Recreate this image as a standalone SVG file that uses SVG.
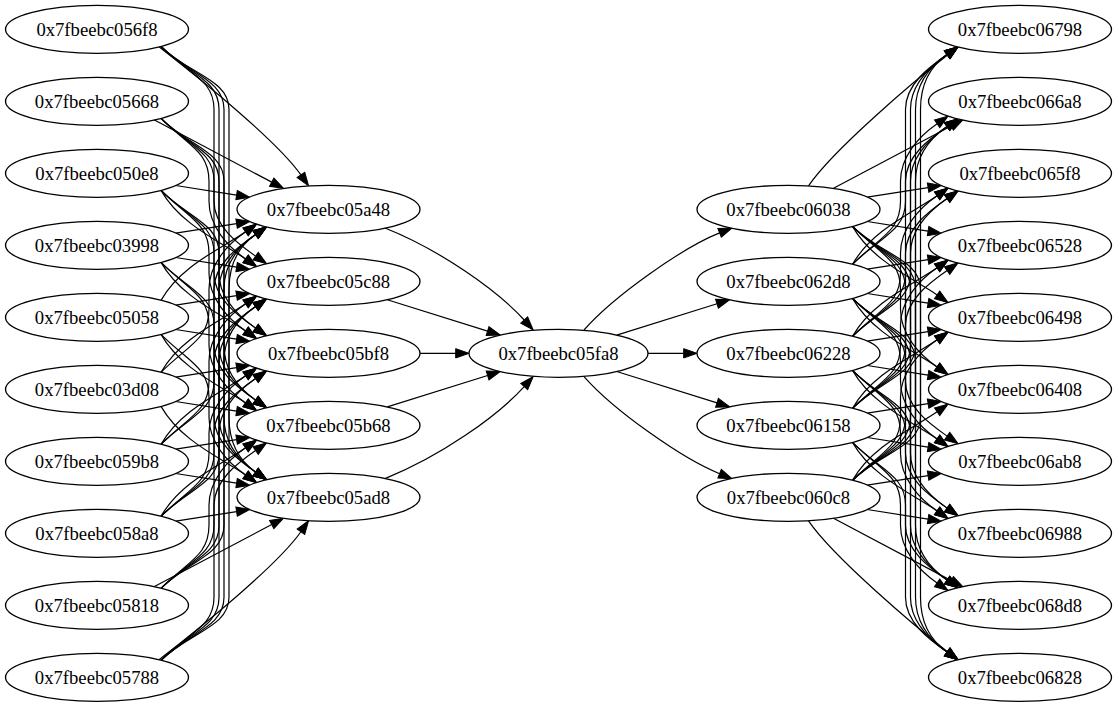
<svg xmlns="http://www.w3.org/2000/svg" width="1118" height="707" viewBox="0 0 1118 707">
<style>
  .node ellipse { fill: #ffffff; stroke: #000000; stroke-width: 1.33; }
  .node text { font-family: "Liberation Serif", "Times New Roman", serif; font-size: 18.67px; text-anchor: middle; fill: #000000; }
  #edges path { fill: none; stroke: #000000; stroke-width: 1.2; marker-end: url(#arrow); }
</style>
<defs>
  <marker id="arrow" markerUnits="userSpaceOnUse" markerWidth="16" markerHeight="12" refX="0" refY="4.67" orient="auto" overflow="visible">
    <path d="M0,0 L13.33,4.67 L0,9.33 z" fill="#000000" stroke="#000000" stroke-width="1"/>
  </marker>
</defs>
<rect x="0" y="0" width="1118" height="707" fill="#ffffff"/>
<g id="edges">
  <!-- first rank to second rank -->
  <path d="M159 46.83 c 45 35 119 95.3 141.9 128.1"/>
  <path d="M161 46.33 c 28 28 53 33 53 63 v 92 c 0 25 23.6 42.3 41.6 54.8"/>
  <path d="M161 46.33 c 28 28 58 33 58 63 v 164 c 0 25 18.6 42.3 36.6 54.8"/>
  <path d="M161 46.33 c 28 28 63 33 63 63 v 236 c 0 25 13.6 42.3 31.6 54.8"/>
  <path d="M161 46.33 c 28 28 68 33 68 63 v 308 c 0 25 8.6 42.3 26.6 54.8"/>

  <path d="M154 119.83 l 117.7 62.3"/>
  <path d="M161 118.33 c 28 28 48 33 48 63 v 20 c 0 25 18.6 45.1 36.6 57.6"/>
  <path d="M161 118.33 c 28 28 53 33 53 63 v 92 c 0 25 23.6 42.3 41.6 54.8"/>
  <path d="M161 118.33 c 28 28 58 33 58 63 v 164 c 0 25 18.6 42.3 36.6 54.8"/>
  <path d="M161 118.33 c 28 28 63 33 63 63 v 236 c 0 25 13.6 42.3 31.6 54.8"/>

  <path d="M175.7 185.53 l 60.9 9.55"/>
  <path d="M161 190.33 c 20 35 60 51.5 84.6 68.6"/>
  <path d="M161 190.33 c 28 28 48 33 48 63 v 20 c 0 25 18.6 45.1 36.6 57.6"/>
  <path d="M161 190.33 c 28 28 53 33 53 63 v 92 c 0 25 23.6 42.3 41.6 54.8"/>
  <path d="M161 190.33 c 28 28 58 33 58 63 v 164 c 0 25 18.6 42.3 36.6 54.8"/>

  <path d="M175.7 233.13 l 60.9 -9.55"/>
  <path d="M175.7 257.53 l 60.9 9.55"/>
  <path d="M161 262.33 c 20 35 60 51.5 84.6 68.6"/>
  <path d="M161 262.33 c 28 28 48 33 48 63 v 20 c 0 25 18.6 45.1 36.6 57.6"/>
  <path d="M161 262.33 c 28 28 53 33 53 63 v 92 c 0 25 23.6 42.3 41.6 54.8"/>

  <path d="M161 300.33 c 20 -35 60 -51.5 84.6 -68.6"/>
  <path d="M175.7 305.13 l 60.9 -9.55"/>
  <path d="M175.7 329.53 l 60.9 9.55"/>
  <path d="M161 334.33 c 20 35 60 51.5 84.6 68.6"/>
  <path d="M161 334.33 c 28 28 48 33 48 63 v 20 c 0 25 18.6 45.1 36.6 57.6"/>

  <path d="M161 372.33 c 28 -28 48 -33 48 -63 v -20 c 0 -25 18.6 -45.1 36.6 -57.6"/>
  <path d="M161 372.33 c 20 -35 60 -51.5 84.6 -68.6"/>
  <path d="M175.7 377.13 l 60.9 -9.55"/>
  <path d="M175.7 401.53 l 60.9 9.55"/>
  <path d="M161 406.33 c 20 35 60 51.5 84.6 68.6"/>

  <path d="M161 444.33 c 28 -28 53 -33 53 -63 v -92 c 0 -25 23.6 -42.3 41.6 -54.8"/>
  <path d="M161 444.33 c 28 -28 48 -33 48 -63 v -20 c 0 -25 18.6 -45.1 36.6 -57.6"/>
  <path d="M161 444.33 c 20 -35 60 -51.5 84.6 -68.6"/>
  <path d="M175.7 449.13 l 60.9 -9.55"/>
  <path d="M175.7 473.53 l 60.9 9.55"/>

  <path d="M161 516.33 c 28 -28 58 -33 58 -63 v -164 c 0 -25 18.6 -42.3 36.6 -54.8"/>
  <path d="M161 516.33 c 28 -28 53 -33 53 -63 v -92 c 0 -25 23.6 -42.3 41.6 -54.8"/>
  <path d="M161 516.33 c 28 -28 48 -33 48 -63 v -20 c 0 -25 18.6 -45.1 36.6 -57.6"/>
  <path d="M161 516.33 c 20 -35 60 -51.5 84.6 -68.6"/>
  <path d="M175.7 521.13 l 60.9 -9.55"/>

  <path d="M161 588.33 c 28 -28 63 -33 63 -63 v -236 c 0 -25 13.6 -42.3 31.6 -54.8"/>
  <path d="M161 588.33 c 28 -28 58 -33 58 -63 v -164 c 0 -25 18.6 -42.3 36.6 -54.8"/>
  <path d="M161 588.33 c 28 -28 53 -33 53 -63 v -92 c 0 -25 23.6 -42.3 41.6 -54.8"/>
  <path d="M161 588.33 c 28 -28 48 -33 48 -63 v -20 c 0 -25 18.6 -45.1 36.6 -57.6"/>
  <path d="M154 586.83 l 117.7 -62.3"/>

  <path d="M161 660.33 c 28 -28 68 -33 68 -63 v -308 c 0 -25 8.6 -42.3 26.6 -54.8"/>
  <path d="M161 660.33 c 28 -28 63 -33 63 -63 v -236 c 0 -25 13.6 -42.3 31.6 -54.8"/>
  <path d="M161 660.33 c 28 -28 58 -33 58 -63 v -164 c 0 -25 18.6 -42.3 36.6 -54.8"/>
  <path d="M161 660.33 c 28 -28 53 -33 53 -63 v -92 c 0 -25 23.6 -42.3 41.6 -54.8"/>
  <path d="M159 659.83 c 45 -35 119 -95.3 141.9 -128.1"/>

  <!-- second rank into the hub -->
  <path d="M385 228 C 440 250 497 290 524.2 320"/>
  <path d="M387.3 299.7 L 487.6 331.1"/>
  <path d="M420 353.33 L 455.7 353.33"/>
  <path d="M387.3 406.9 L 487.6 375.5"/>
  <path d="M385 478.6 C 440 456.6 497 416.6 524.2 386.6"/>

  <!-- hub out to fourth rank -->
  <path d="M584 330 C 614 296 682.5 247.7 719.6 232.9"/>
  <path d="M616.7 335.1 L 717 303.7"/>
  <path d="M648 353.33 L 683.7 353.33"/>
  <path d="M616.7 371.5 L 717 402.9"/>
  <path d="M584 376.6 C 614 410.6 682.5 458.9 719.6 473.7"/>

  <!-- fourth rank to last rank -->
  <path d="M808.5 185.83 c 25 -36.5 107.4 -106.2 139 -130.8"/>
  <path d="M833.5 188.33 l 117.7 -62.3"/>
  <path d="M867.2 197.13 l 60.9 -9.55"/>
  <path d="M867.2 221.53 l 60.9 9.55"/>
  <path d="M852.5 226.33 c 20 35 60 51.5 84.6 68.6"/>
  <path d="M852.5 226.33 c 28 28 48 33 48 63 v 20 c 0 25 18.6 45.1 36.6 57.6"/>
  <path d="M852.5 226.33 c 28 28 53 33 53 63 v 92 c 0 25 23.6 42.3 41.6 54.8"/>
  <path d="M852.5 226.33 c 28 28 58 33 58 63 v 164 c 0 25 18.6 42.3 36.6 54.8"/>
  <path d="M852.5 226.33 c 28 28 63 33 63 63 v 236 c 0 25 13.6 42.3 31.6 54.8"/>
  <path d="M852.5 226.33 c 28 28 68 33 68 63 v 308 c 0 25 8.6 42.3 26.6 54.8"/>

  <path d="M852.5 264.33 c 28 -28 53 -33 53 -63 v -92 c 0 -25 23.6 -42.3 41.6 -54.8"/>
  <path d="M852.5 264.33 c 28 -28 48 -33 48 -63 v -20 c 0 -25 18.6 -45.1 36.6 -57.6"/>
  <path d="M852.5 264.33 c 20 -35 60 -51.5 84.6 -68.6"/>
  <path d="M867.2 269.13 l 60.9 -9.55"/>
  <path d="M867.2 293.53 l 60.9 9.55"/>
  <path d="M852.5 298.33 c 20 35 60 51.5 84.6 68.6"/>
  <path d="M852.5 298.33 c 28 28 48 33 48 63 v 20 c 0 25 18.6 45.1 36.6 57.6"/>
  <path d="M852.5 298.33 c 28 28 53 33 53 63 v 92 c 0 25 23.6 42.3 41.6 54.8"/>
  <path d="M852.5 298.33 c 28 28 58 33 58 63 v 164 c 0 25 18.6 42.3 36.6 54.8"/>
  <path d="M852.5 298.33 c 28 28 63 33 63 63 v 236 c 0 25 13.6 42.3 31.6 54.8"/>

  <path d="M852.5 336.33 c 28 -28 58 -33 58 -63 v -164 c 0 -25 18.6 -42.3 36.6 -54.8"/>
  <path d="M852.5 336.33 c 28 -28 53 -33 53 -63 v -92 c 0 -25 23.6 -42.3 41.6 -54.8"/>
  <path d="M852.5 336.33 c 28 -28 48 -33 48 -63 v -20 c 0 -25 18.6 -45.1 36.6 -57.6"/>
  <path d="M852.5 336.33 c 20 -35 60 -51.5 84.6 -68.6"/>
  <path d="M867.2 341.13 l 60.9 -9.55"/>
  <path d="M867.2 365.53 l 60.9 9.55"/>
  <path d="M852.5 370.33 c 20 35 60 51.5 84.6 68.6"/>
  <path d="M852.5 370.33 c 28 28 48 33 48 63 v 20 c 0 25 18.6 45.1 36.6 57.6"/>
  <path d="M852.5 370.33 c 28 28 53 33 53 63 v 92 c 0 25 23.6 42.3 41.6 54.8"/>
  <path d="M852.5 370.33 c 28 28 58 33 58 63 v 164 c 0 25 18.6 42.3 36.6 54.8"/>

  <path d="M852.5 408.33 c 28 -28 63 -33 63 -63 v -236 c 0 -25 13.6 -42.3 31.6 -54.8"/>
  <path d="M852.5 408.33 c 28 -28 58 -33 58 -63 v -164 c 0 -25 18.6 -42.3 36.6 -54.8"/>
  <path d="M852.5 408.33 c 28 -28 53 -33 53 -63 v -92 c 0 -25 23.6 -42.3 41.6 -54.8"/>
  <path d="M852.5 408.33 c 28 -28 48 -33 48 -63 v -20 c 0 -25 18.6 -45.1 36.6 -57.6"/>
  <path d="M852.5 408.33 c 20 -35 60 -51.5 84.6 -68.6"/>
  <path d="M867.2 413.13 l 60.9 -9.55"/>
  <path d="M867.2 437.53 l 60.9 9.55"/>
  <path d="M852.5 442.33 c 20 35 60 51.5 84.6 68.6"/>
  <path d="M852.5 442.33 c 28 28 48 33 48 63 v 20 c 0 25 18.6 45.1 36.6 57.6"/>
  <path d="M852.5 442.33 c 28 28 53 33 53 63 v 92 c 0 25 23.6 42.3 41.6 54.8"/>

  <path d="M852.5 480.33 c 28 -28 68 -33 68 -63 v -308 c 0 -25 8.6 -42.3 26.6 -54.8"/>
  <path d="M852.5 480.33 c 28 -28 63 -33 63 -63 v -236 c 0 -25 13.6 -42.3 31.6 -54.8"/>
  <path d="M852.5 480.33 c 28 -28 58 -33 58 -63 v -164 c 0 -25 18.6 -42.3 36.6 -54.8"/>
  <path d="M852.5 480.33 c 28 -28 53 -33 53 -63 v -92 c 0 -25 23.6 -42.3 41.6 -54.8"/>
  <path d="M852.5 480.33 c 28 -28 48 -33 48 -63 v -20 c 0 -25 18.6 -45.1 36.6 -57.6"/>
  <path d="M852.5 480.33 c 20 -35 60 -51.5 84.6 -68.6"/>
  <path d="M867.2 485.13 l 60.9 -9.55"/>
  <path d="M867.2 509.53 l 60.9 9.55"/>
  <path d="M833.5 518.33 l 117.7 62.3"/>
  <path d="M808.5 520.83 c 25 36.5 107.4 106.2 139 130.8"/>
</g>

<!-- first rank -->
<g id="n056f8" class="node"><ellipse cx="97" cy="29.33" rx="91.5" ry="24"/><text x="97" y="35.6">0x7fbeebc056f8</text></g>
<g id="n05668" class="node"><ellipse cx="97" cy="101.33" rx="91.5" ry="24"/><text x="97" y="107.6">0x7fbeebc05668</text></g>
<g id="n050e8" class="node"><ellipse cx="97" cy="173.33" rx="91.5" ry="24"/><text x="97" y="179.6">0x7fbeebc050e8</text></g>
<g id="n03998" class="node"><ellipse cx="97" cy="245.33" rx="91.5" ry="24"/><text x="97" y="251.6">0x7fbeebc03998</text></g>
<g id="n05058" class="node"><ellipse cx="97" cy="317.33" rx="91.5" ry="24"/><text x="97" y="323.6">0x7fbeebc05058</text></g>
<g id="n03d08" class="node"><ellipse cx="97" cy="389.33" rx="91.5" ry="24"/><text x="97" y="395.6">0x7fbeebc03d08</text></g>
<g id="n059b8" class="node"><ellipse cx="97" cy="461.33" rx="91.5" ry="24"/><text x="97" y="467.6">0x7fbeebc059b8</text></g>
<g id="n058a8" class="node"><ellipse cx="97" cy="533.33" rx="91.5" ry="24"/><text x="97" y="539.6">0x7fbeebc058a8</text></g>
<g id="n05818" class="node"><ellipse cx="97" cy="605.33" rx="91.5" ry="24"/><text x="97" y="611.6">0x7fbeebc05818</text></g>
<g id="n05788" class="node"><ellipse cx="97" cy="677.33" rx="91.5" ry="24"/><text x="97" y="683.6">0x7fbeebc05788</text></g>

<!-- second rank -->
<g id="n05a48" class="node"><ellipse cx="328.5" cy="209.33" rx="91.5" ry="24"/><text x="328.5" y="215.6">0x7fbeebc05a48</text></g>
<g id="n05c88" class="node"><ellipse cx="328.5" cy="281.33" rx="91.5" ry="24"/><text x="328.5" y="287.6">0x7fbeebc05c88</text></g>
<g id="n05bf8" class="node"><ellipse cx="328.5" cy="353.33" rx="91.5" ry="24"/><text x="328.5" y="359.6">0x7fbeebc05bf8</text></g>
<g id="n05b68" class="node"><ellipse cx="328.5" cy="425.33" rx="91.5" ry="24"/><text x="328.5" y="431.6">0x7fbeebc05b68</text></g>
<g id="n05ad8" class="node"><ellipse cx="328.5" cy="497.33" rx="91.5" ry="24"/><text x="328.5" y="503.6">0x7fbeebc05ad8</text></g>

<!-- hub -->
<g id="n05fa8" class="node"><ellipse cx="558.5" cy="353.33" rx="89.5" ry="24"/><text x="558.5" y="359.6">0x7fbeebc05fa8</text></g>

<!-- fourth rank -->
<g id="n06038" class="node"><ellipse cx="788.5" cy="209.33" rx="91.5" ry="24"/><text x="788.5" y="215.6">0x7fbeebc06038</text></g>
<g id="n062d8" class="node"><ellipse cx="788.5" cy="281.33" rx="91.5" ry="24"/><text x="788.5" y="287.6">0x7fbeebc062d8</text></g>
<g id="n06228" class="node"><ellipse cx="788.5" cy="353.33" rx="91.5" ry="24"/><text x="788.5" y="359.6">0x7fbeebc06228</text></g>
<g id="n06158" class="node"><ellipse cx="788.5" cy="425.33" rx="91.5" ry="24"/><text x="788.5" y="431.6">0x7fbeebc06158</text></g>
<g id="n060c8" class="node"><ellipse cx="788.5" cy="497.33" rx="91.5" ry="24"/><text x="788.5" y="503.6">0x7fbeebc060c8</text></g>

<!-- last rank -->
<g id="n06798" class="node"><ellipse cx="1020" cy="29.33" rx="91.5" ry="24"/><text x="1020" y="35.6">0x7fbeebc06798</text></g>
<g id="n066a8" class="node"><ellipse cx="1020" cy="101.33" rx="91.5" ry="24"/><text x="1020" y="107.6">0x7fbeebc066a8</text></g>
<g id="n065f8" class="node"><ellipse cx="1020" cy="173.33" rx="91.5" ry="24"/><text x="1020" y="179.6">0x7fbeebc065f8</text></g>
<g id="n06528" class="node"><ellipse cx="1020" cy="245.33" rx="91.5" ry="24"/><text x="1020" y="251.6">0x7fbeebc06528</text></g>
<g id="n06498" class="node"><ellipse cx="1020" cy="317.33" rx="91.5" ry="24"/><text x="1020" y="323.6">0x7fbeebc06498</text></g>
<g id="n06408" class="node"><ellipse cx="1020" cy="389.33" rx="91.5" ry="24"/><text x="1020" y="395.6">0x7fbeebc06408</text></g>
<g id="n06ab8" class="node"><ellipse cx="1020" cy="461.33" rx="91.5" ry="24"/><text x="1020" y="467.6">0x7fbeebc06ab8</text></g>
<g id="n06988" class="node"><ellipse cx="1020" cy="533.33" rx="91.5" ry="24"/><text x="1020" y="539.6">0x7fbeebc06988</text></g>
<g id="n068d8" class="node"><ellipse cx="1020" cy="605.33" rx="91.5" ry="24"/><text x="1020" y="611.6">0x7fbeebc068d8</text></g>
<g id="n06828" class="node"><ellipse cx="1020" cy="677.33" rx="91.5" ry="24"/><text x="1020" y="683.6">0x7fbeebc06828</text></g>
</svg>
